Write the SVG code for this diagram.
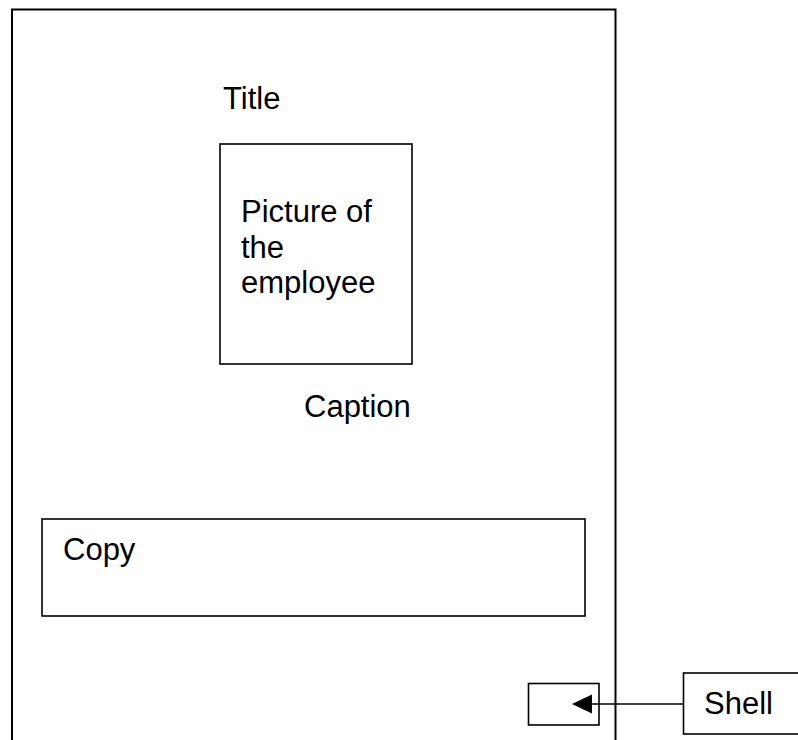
<svg xmlns="http://www.w3.org/2000/svg" width="798" height="740" viewBox="0 0 798 740">
<style>
.box{fill:none;stroke:#000;stroke-width:1.6}
.frame{fill:none;stroke:#000;stroke-width:2}
.t{font-family:"Liberation Sans",Arial,sans-serif;font-size:31px;fill:#000}
</style>
<defs>
<marker id="ah" markerWidth="20" markerHeight="20" refX="20" refY="9" orient="auto" markerUnits="userSpaceOnUse">
<path d="M0,0 L20,9 L0,18 Z" fill="#000" transform="rotate(180 10 9)"/>
</marker>
</defs>
<rect width="798" height="740" fill="#fff"/>
<g id="page"><rect class="frame" x="12" y="9.5" width="603.5" height="740"/></g>
<g id="title"><text class="t" x="223" y="109">Title</text></g>
<g id="picture">
<rect class="box" x="220" y="144" width="192" height="220"/>
<text class="t" x="241" y="222">Picture of</text>
<text class="t" x="241" y="257.5">the</text>
<text class="t" x="241" y="293">employee</text>
</g>
<g id="caption"><text class="t" x="304" y="417">Caption</text></g>
<g id="copy">
<rect class="box" x="42" y="519" width="543" height="97"/>
<text class="t" x="63" y="560">Copy</text>
</g>
<g id="target"><rect class="box" x="528.5" y="683.5" width="70.5" height="41.5"/></g>
<g id="shell">
<rect class="box" x="683.5" y="673" width="125" height="61"/>
<text class="t" x="704" y="714">Shell</text>
</g>
<g id="connectors">
<line x1="683.5" y1="704" x2="590" y2="704" stroke="#000" stroke-width="1.6"/>
<path d="M572,704 L592,694.5 L592,713.5 Z" fill="#000"/>
</g>
</svg>
